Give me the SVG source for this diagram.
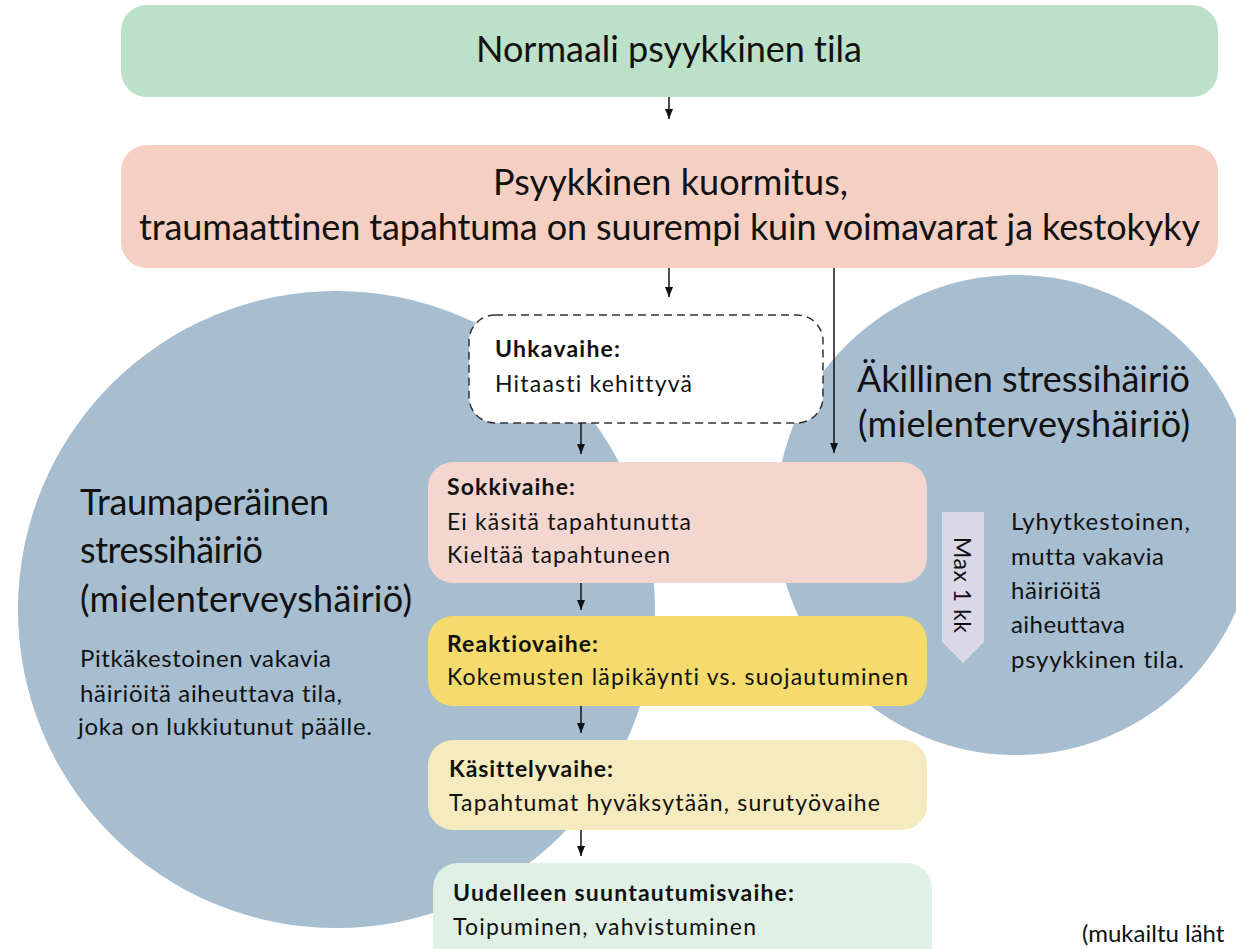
<svg xmlns="http://www.w3.org/2000/svg" width="1236" height="949" viewBox="0 0 1236 949">
<defs>
<marker id="ah" markerWidth="10" markerHeight="8" refX="10" refY="4" orient="auto" markerUnits="userSpaceOnUse">
<path d="M0,0 L10,4 L0,8 Z" fill="#111"/>
</marker>
<style>
text{font-family:Lato,"Noto Sans","DejaVu Sans",sans-serif;fill:#111;font-variant-ligatures:none;font-feature-settings:"liga" 0,"clig" 0;}
.big{font-size:36px;}
.cir{font-size:36px;}
.body{font-size:24px;}
.lbl{font-size:23px;}
.b{font-weight:bold;}
.con{stroke:#111;stroke-width:1.5;fill:none;marker-end:url(#ah);}
</style>
</defs>
<rect width="1236" height="949" fill="#fff"/>
<g id="circle-left">
<circle cx="336.5" cy="609.5" r="318.5" fill="#a7bdd0"/>
<text class="cir" x="80" y="515" textLength="249">Traumaperäinen</text>
<text class="cir" x="80" y="563" textLength="183">stressihäiriö</text>
<text class="cir" x="80" y="612" textLength="332">(mielenterveyshäiriö)</text>
<text class="body" x="80" y="667" textLength="251">Pitkäkestoinen vakavia</text>
<text class="body" x="80" y="702" textLength="262">häiriöitä aiheuttava tila,</text>
<text class="body" x="78" y="735" textLength="294">joka on lukkiutunut päälle.</text>
</g>
<g id="circle-right">
<circle cx="1016" cy="515" r="240" fill="#a7bdd0"/>
<text class="cir" x="857" y="392" textLength="333">Äkillinen stressihäiriö</text>
<text class="cir" x="858" y="437" textLength="332">(mielenterveyshäiriö)</text>
<text class="body" x="1011" y="530" textLength="179">Lyhytkestoinen,</text>
<text class="body" x="1011" y="565" textLength="153">mutta vakavia</text>
<text class="body" x="1011" y="599" textLength="90">häiriöitä</text>
<text class="body" x="1011" y="633" textLength="114">aiheuttava</text>
<text class="body" x="1011" y="668" textLength="173">psyykkinen tila.</text>
</g>
<g id="normaali">
<rect x="121" y="5" width="1097" height="92" rx="26" fill="#bde0c9"/>
<text class="big" x="476" y="62" textLength="386">Normaali psyykkinen tila</text>
</g>
<g id="kuormitus">
<rect x="121" y="145" width="1097" height="123" rx="26" fill="#f5cfc2"/>
<text class="big" x="493" y="195" textLength="355">Psyykkinen kuormitus,</text>
<text class="big" x="139" y="240" textLength="1061">traumaattinen tapahtuma on suurempi kuin voimavarat ja kestokyky</text>
</g>
<g id="uhkavaihe">
<rect x="469" y="315" width="354" height="108" rx="26" fill="#fff" stroke="#333" stroke-width="1.5" stroke-dasharray="8,5"/>
<text class="lbl b" x="495" y="357" textLength="125">Uhkavaihe:</text>
<text class="lbl" x="495" y="392" textLength="197">Hitaasti kehittyvä</text>
</g>
<g id="sokkivaihe">
<rect x="428" y="462" width="499" height="121" rx="25" fill="#f2d6cf"/>
<text class="lbl b" x="447" y="495" textLength="128">Sokkivaihe:</text>
<text class="lbl" x="447" y="530" textLength="244">Ei käsitä tapahtunutta</text>
<text class="lbl" x="447" y="563" textLength="223">Kieltää tapahtuneen</text>
</g>
<g id="reaktiovaihe">
<rect x="428" y="616" width="499" height="90" rx="25" fill="#f5db6d"/>
<text class="lbl b" x="447" y="652" textLength="151">Reaktiovaihe:</text>
<text class="lbl" x="447" y="685" textLength="461">Kokemusten läpikäynti vs. suojautuminen</text>
</g>
<g id="kasittelyvaihe">
<rect x="428" y="740" width="499" height="90" rx="25" fill="#f6eabf"/>
<text class="lbl b" x="449" y="777" textLength="164">Käsittelyvaihe:</text>
<text class="lbl" x="449" y="811" textLength="431">Tapahtumat hyväksytään, surutyövaihe</text>
</g>
<g id="uudelleen">
<rect x="433" y="863" width="499" height="110" rx="25" fill="#e1f0e4"/>
<text class="lbl b" x="453" y="901" textLength="341">Uudelleen suuntautumisvaihe:</text>
<text class="lbl" x="453" y="935" textLength="303">Toipuminen, vahvistuminen</text>
</g>
<g id="max1kk">
<path d="M942,512 L984,512 L984,642 L963,663 L942,642 Z" fill="#dbd8e8"/>
<text class="lbl" x="963" y="585" text-anchor="middle" dominant-baseline="central" transform="rotate(90 963 585)" textLength="96">Max 1 kk</text>
</g>
<g id="connectors">
<line class="con" x1="669" y1="97" x2="669" y2="119"/>
<line class="con" x1="669" y1="268" x2="669" y2="297"/>
<line class="con" x1="834" y1="268" x2="834" y2="453"/>
<line class="con" x1="581" y1="423" x2="581" y2="454"/>
<line class="con" x1="581" y1="583" x2="581" y2="610"/>
<line class="con" x1="581" y1="706" x2="581" y2="733"/>
<line class="con" x1="581" y1="830" x2="581" y2="856"/>
</g>
<text class="body" x="1082" y="942">(mukailtu läht</text>
</svg>
